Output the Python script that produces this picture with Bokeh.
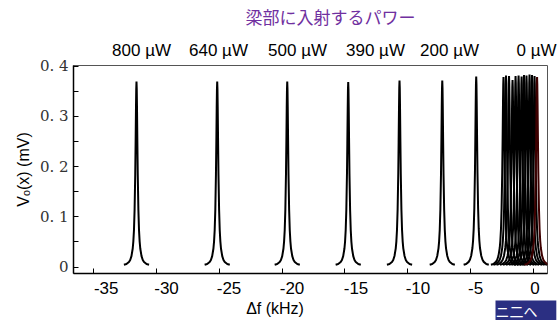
from bokeh.plotting import figure
from bokeh.models import FixedTicker, Range1d, LinearAxis, Title
from bokeh.embed import file_html
from bokeh.resources import INLINE

# ---- data ----
# resonance peak centres (kHz) and peak heights (mV)
peak_centers = [-31.58, -25.16, -19.59, -14.74, -10.66, -7.26, -4.56,
                -2.39, -2.19, -1.95, -1.67, -1.43, -1.19, -0.95, -0.76,
                -0.56, -0.32, -0.12, 0.08, 0.28]
peak_heights = [0.369, 0.369, 0.369, 0.368, 0.371, 0.371, 0.379,
                0.378, 0.381, 0.380, 0.372, 0.380, 0.381, 0.379, 0.382,
                0.381, 0.383, 0.382, 0.380, 0.378]
profile_offsets = [-1.0, -0.8, -0.6, -0.5, -0.4, -0.3, -0.25, -0.2, -0.15, -0.1,
                   -0.07, -0.04, -0.02, 0.0, 0.02, 0.04, 0.07, 0.1, 0.15, 0.2,
                   0.25, 0.3, 0.4, 0.5, 0.6, 0.8, 1.0]
profile_shape = [0.012, 0.016, 0.027, 0.038, 0.059, 0.10, 0.138, 0.20, 0.31, 0.50,
                 0.67, 0.86, 0.96, 1.0, 0.96, 0.86, 0.67, 0.50, 0.31, 0.20,
                 0.138, 0.10, 0.059, 0.038, 0.027, 0.016, 0.012]

power_labels = ["800 µW", "640 µW", "500 µW", "390 µW", "200 µW", "0 µW"]
x_ticks = [-35, -30, -25, -20, -15, -10, -5, 0]
x_tick_labels = ["-35", "-30", "-25", "-20", "-15", "-10", "-5", "0"]
y_ticks = [0, 0.1, 0.2, 0.3, 0.4]
y_minor_ticks = [0.05, 0.15, 0.25, 0.35]
y_tick_labels = ["0", "0. 1", "0. 2", "0. 3", "0. 4"]
title_text = "梁部に入射するパワー"
x_label = "Δf (kHz)"
y_label = "Vₒ(x) (mV)"
button_text = "ニ二へ"

# ---- layout positions (in x-axis data units) ----
# the x tick labels of the original sit slightly right of their ticks
x_tick_label_pos = [-33.99, -29.19, -24.22, -19.21, -14.12, -9.19, -4.61, 0.12]
power_label_pos = [-31.18, -25.06, -18.77, -12.57, -6.68, 0.24]
title_pos = -16.15
x_label_pos = -20.56

# ---- figure ----
p = figure(width=559, height=320, output_backend="svg", toolbar_location=None,
           x_range=Range1d(-36.59, 1.11), y_range=Range1d(-0.0129, 0.401))
p.min_border_left = 73
p.min_border_right = 12
p.min_border_top = 64
p.min_border_bottom = 47
p.grid.visible = False
p.background_fill_color = "white"
p.border_fill_color = "white"
p.outline_line_color = "#555555"
p.outline_line_width = 1

for i, (c, h) in enumerate(zip(peak_centers, peak_heights)):
    xs = [c + o for o in profile_offsets]
    ys = [h * s for s in profile_shape]
    col = "#3d0000" if i == len(peak_centers) - 1 else "black"
    p.line(xs, ys, line_color=col, line_width=2)

# bottom axis: the tick marks are drawn as (minor) ticks at the real values,
# the labels sit on invisible major ticks a little to the right, as in the original
p.xaxis.ticker = FixedTicker(ticks=x_tick_label_pos, minor_ticks=x_ticks)
p.xaxis.major_label_overrides = {t: l for t, l in zip(x_tick_label_pos, x_tick_labels)}
p.xaxis.major_label_text_font = "Liberation Sans"
p.xaxis.major_label_text_font_size = "17px"
p.xaxis.major_label_text_color = "black"
p.xaxis.major_label_standoff = 8
p.xaxis.major_tick_line_color = None
p.xaxis.major_tick_in = 0
p.xaxis.major_tick_out = 0
p.xaxis.minor_tick_line_color = "black"
p.xaxis.minor_tick_in = 5
p.xaxis.minor_tick_out = 0

p.yaxis.ticker = FixedTicker(ticks=y_ticks, minor_ticks=y_minor_ticks)
p.yaxis.major_label_overrides = {t: l for t, l in zip(y_ticks, y_tick_labels)}
p.yaxis.major_label_text_font = "DejaVu Serif"
p.yaxis.major_label_text_font_size = "15px"
p.yaxis.major_label_text_color = "#333333"
p.yaxis.major_tick_line_color = "black"
p.yaxis.major_tick_in = 5
p.yaxis.major_tick_out = 0
p.yaxis.minor_tick_in = 5
p.yaxis.minor_tick_out = 0
p.yaxis.minor_tick_line_color = "black"
p.yaxis.major_label_standoff = 5
p.yaxis.axis_label = y_label
p.yaxis.axis_label_text_font = "Liberation Sans"
p.yaxis.axis_label_text_font_style = "normal"
p.yaxis.axis_label_text_font_size = "16px"
p.yaxis.axis_label_text_color = "black"
p.yaxis.axis_label_standoff = 5

for ax in (p.xaxis, p.yaxis):
    ax.axis_line_color = "black"
    ax.axis_line_width = 1.5


def text_axis(ticks, labels, standoff, font, size, color):
    ax = LinearAxis(ticker=FixedTicker(ticks=ticks),
                    major_label_overrides={t: l for t, l in zip(ticks, labels)})
    ax.axis_line_color = None
    ax.major_tick_line_color = None
    ax.minor_tick_line_color = None
    ax.major_tick_in = 0
    ax.major_tick_out = 0
    ax.major_label_standoff = standoff
    ax.major_label_text_font = font
    ax.major_label_text_font_size = size
    ax.major_label_text_color = color
    return ax


# power labels above the frame, then the purple heading
p.add_layout(text_axis(power_label_pos, power_labels, 6, "Liberation Sans", "17px", "black"), "above")
p.add_layout(text_axis([title_pos], [title_text], 9, "Noto Sans CJK JP", "17px", "#7030A0"), "above")
# x axis label
p.add_layout(text_axis([x_label_pos], [x_label], 3, "Liberation Sans", "16px", "black"), "below")

# cropped navy button at the bottom right corner
p.add_layout(Title(text=button_text + "      ", align="left", vertical_align="top",
                   text_color="white", text_font="Noto Sans CJK JP",
                   text_font_size="14px", text_font_style="normal",
                   background_fill_color="#2b2f82", standoff=-38, offset=422), "below")

open("out.html", "w").write(file_html(p, INLINE))
